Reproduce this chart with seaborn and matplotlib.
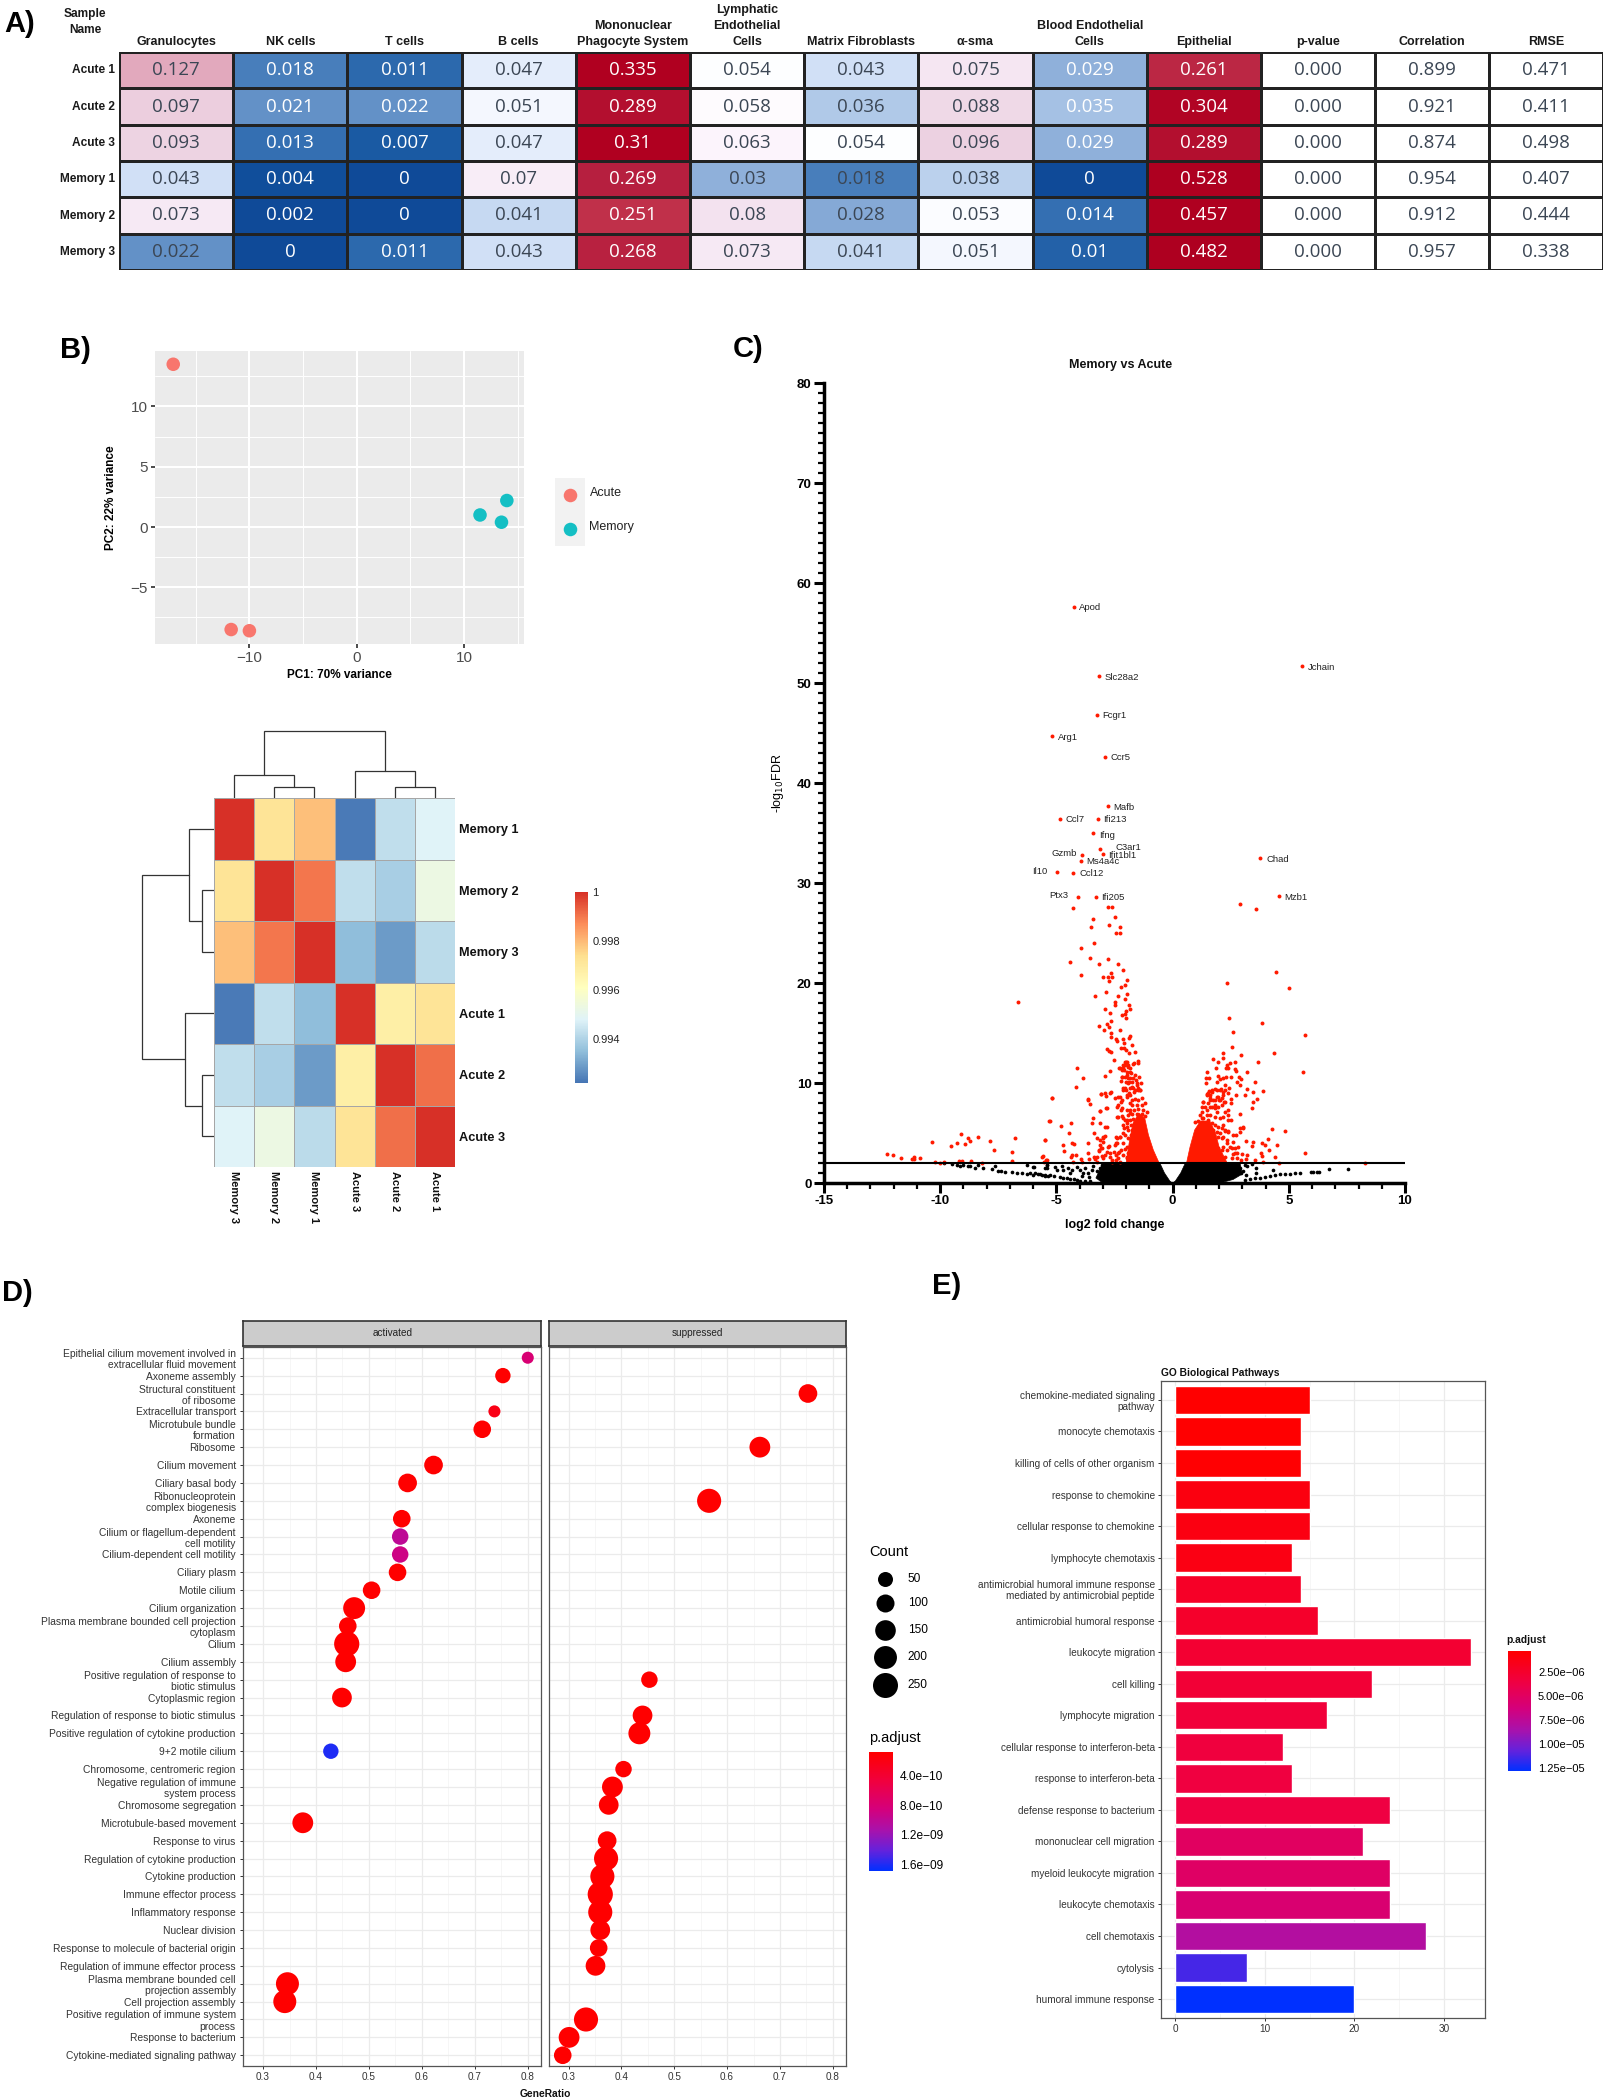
import numpy as np
import pandas as pd
import matplotlib
matplotlib.use("Agg")
import matplotlib.pyplot as plt
from matplotlib.colors import LinearSegmentedColormap, ListedColormap, Normalize
from matplotlib.cm import ScalarMappable
import seaborn as sns

# ---------- Panel A data ----------
samples = ["Acute 1", "Acute 2", "Acute 3", "Memory 1", "Memory 2", "Memory 3"]
cell_types = ["Granulocytes", "NK cells", "T cells", "B cells", "Mononuclear\nPhagocyte System",
              "Lymphatic\nEndothelial\nCells", "Matrix Fibroblasts", "α-sma",
              "Blood Endothelial\nCells", "Epithelial"]
granulocytes = [0.127, 0.097, 0.093, 0.043, 0.073, 0.022]
nk_cells = [0.018, 0.021, 0.013, 0.004, 0.002, 0]
t_cells = [0.011, 0.022, 0.007, 0, 0, 0.011]
b_cells = [0.047, 0.051, 0.047, 0.07, 0.041, 0.043]
mps = [0.335, 0.289, 0.31, 0.269, 0.251, 0.268]
lymph_endo = [0.054, 0.058, 0.063, 0.03, 0.08, 0.073]
matrix_fibro = [0.043, 0.036, 0.054, 0.018, 0.028, 0.041]
alpha_sma = [0.075, 0.088, 0.096, 0.038, 0.053, 0.051]
blood_endo = [0.029, 0.035, 0.029, 0, 0.014, 0.01]
epithelial = [0.261, 0.304, 0.289, 0.528, 0.457, 0.482]
stat_names = ["p-value", "Correlation", "RMSE"]
p_values = [0.0, 0.0, 0.0, 0.0, 0.0, 0.0]
correlation = [0.899, 0.921, 0.874, 0.954, 0.912, 0.957]
rmse = [0.471, 0.411, 0.498, 0.407, 0.444, 0.338]
light_text_columns = ["NK cells", "T cells", "Mononuclear\nPhagocyte System",
                      "Blood Endothelial\nCells", "Epithelial"]
table_color_stops = [(0, "#0F4A98"), (0.004, "#11529E"), (0.011, "#2F6BAF"), (0.014, "#3A74B5"),
                     (0.018, "#5084BE"), (0.022, "#6C97CB"), (0.029, "#8FB0DA"), (0.035, "#AFC8E8"),
                     (0.041, "#CFDFF6"), (0.047, "#EBF1FC"), (0.052, "#FCFDFF"), (0.056, "#FFFFFF"),
                     (0.063, "#FBF2FB"), (0.075, "#F5E6F2"), (0.088, "#EED8E6"), (0.096, "#ECD0E0"),
                     (0.127, "#E2A8BC"), (0.251, "#C0304A"), (0.27, "#B61E3E"), (0.31, "#B00020"),
                     (0.528, "#AE0020")]

# ---------- Panel B data ----------
pca_group = ["Acute", "Acute", "Acute", "Memory", "Memory", "Memory"]
pca_pc1 = [-17.1, -11.7, -10.0, 11.5, 13.5, 14.0]
pca_pc2 = [13.5, -8.5, -8.6, 1.0, 0.4, 2.2]
corr_rows = ["Memory 1", "Memory 2", "Memory 3", "Acute 1", "Acute 2", "Acute 3"]
corr_cols = ["Memory 3", "Memory 2", "Memory 1", "Acute 3", "Acute 2", "Acute 1"]
corr_r1 = [1.0, 0.9972, 0.9979, 0.9923, 0.9943, 0.9948]
corr_r2 = [0.9972, 1.0, 0.9990, 0.9943, 0.9939, 0.9953]
corr_r3 = [0.9979, 0.9990, 1.0, 0.9935, 0.9929, 0.9942]
corr_r4 = [0.9923, 0.9943, 0.9935, 1.0, 0.9968, 0.9972]
corr_r5 = [0.9943, 0.9939, 0.9929, 0.9968, 1.0, 0.9991]
corr_r6 = [0.9948, 0.9953, 0.9942, 0.9972, 0.9991, 1.0]
pheatmap_colors = ["#4575B4", "#91BFDB", "#E0F3F8", "#FFFFBF", "#FEE090", "#FC8D59", "#D73027"]
# linkage: (child a, child b, height); ids above 5 are earlier merges
corr_linkage = [(1, 2, 0.16), (0, 6, 0.345), (4, 5, 0.16), (3, 8, 0.405), (7, 9, 1.0)]

# ---------- Panel C data ----------
gene_names = ["Apod", "Slc28a2", "Fcgr1", "Arg1", "Ccr5", "Mafb", "Ccl7", "Ifi213", "Ifng", "C3ar1",
              "Ifit1bl1", "Gzmb", "Ms4a4c", "Il10", "Ccl12", "Ptx3", "Ifi205", "Jchain", "Chad", "Mzb1"]
gene_x = [-4.26, -3.17, -3.27, -5.17, -2.89, -2.76, -4.85, -3.23, -3.42, -3.14,
          -3.0, -3.88, -3.94, -4.98, -4.28, -4.07, -3.30, 5.58, 3.77, 4.56]
gene_y = [57.6, 50.7, 46.8, 44.7, 42.6, 37.7, 36.4, 36.4, 35.0, 33.4,
          32.9, 32.8, 32.2, 31.1, 31.0, 28.6, 28.6, 51.7, 32.5, 28.7]
gene_label_x = [-4.01, -2.93, -3.02, -4.95, -2.67, -2.54, -4.61, -2.99, -3.17, -2.45,
                -2.76, -5.20, -3.70, -6.03, -4.01, -5.30, -3.06, 5.82, 4.02, 4.80]
gene_label_y = [57.5, 50.6, 46.7, 44.6, 42.5, 37.6, 36.3, 36.3, 34.8, 33.5,
                32.8, 32.9, 32.1, 31.1, 30.9, 28.7, 28.5, 51.6, 32.4, 28.6]
red_left_upper = [(-4.29, 27.5), (-2.78, 27.6), (-2.59, 27.6), (-2.48, 26.6), (-3.41, 26.4), (-2.74, 25.8),
    (-3.53, 25.6), (-2.26, 25.6), (-2.45, 25.0), (-2.28, 25.0), (-3.40, 24.0), (-3.96, 23.5), (-3.57, 22.5),
    (-2.78, 22.4), (-4.43, 22.1), (-3.15, 21.9), (-2.36, 21.9), (-2.15, 21.3), (-2.65, 21.0), (-3.96, 20.8),
    (-3.0, 20.6), (-2.78, 20.6), (-2.61, 20.6), (-2.72, 20.2), (-1.95, 20.3), (-2.06, 19.8), (-2.24, 19.6),
    (-2.88, 19.1), (-3.34, 18.7), (-1.96, 18.9), (-2.36, 18.7), (-2.06, 18.4), (-2.48, 18.1), (-2.46, 17.8),
    (-1.88, 17.8), (-1.83, 17.4), (-2.91, 17.4), (-2.0, 17.2), (-2.69, 17.0), (-2.16, 16.8), (-2.06, 16.9),
    (-2.02, 16.5), (-2.65, 16.2), (-2.84, 15.9), (-3.15, 15.7), (-2.75, 15.6), (-2.95, 15.3), (-2.26, 15.3),
    (-2.64, 15.0), (-2.65, 14.6), (-1.83, 14.7), (-1.89, 14.5), (-2.42, 14.4), (-2.38, 14.2), (-2.15, 14.4),
    (-2.09, 14.0), (-1.73, 13.8), (-2.24, 13.5), (-2.11, 13.5), (-2.02, 13.3), (-2.82, 13.4), (-2.72, 13.2),
    (-2.64, 13.1), (-1.86, 13.0), (-1.62, 13.1), (-2.52, 12.3), (-2.03, 12.1), (-1.66, 12.0), (-1.49, 12.2),
    (-2.68, 11.25), (-2.9, 10.7), (-6.67, 18.1), (-4.13, 11.5), (-3.86, 10.5), (-4.16, 9.65), (-5.17, 8.5),
    (-3.64, 8.33), (-3.55, 7.9), (-2.29, 11.5), (-2.19, 11.3), (-2.05, 11.8), (-1.91, 11.8), (-1.83, 11.5),
    (-1.98, 11.15), (-2.12, 11.5), (-1.95, 12.15), (-1.80, 11.0), (-2.05, 10.65), (-1.69, 10.5), (-1.86, 10.15),
    (-2.0, 10.15), (-1.55, 9.8), (-1.66, 9.15), (-1.4, 9.3)]
red_left_lower = [(-5.20, 8.55), (-5.29, 6.25), (-4.80, 5.75), (-4.39, 6.05), (-5.49, 4.3), (-4.44, 5.0),
    (-4.72, 3.8), (-4.31, 4.0), (-4.23, 3.9), (-4.66, 3.25), (-4.14, 2.8), (-4.34, 2.8), (-4.39, 2.6),
    (-5.59, 2.75), (-5.45, 2.3), (-4.27, 2.15), (-3.94, 2.4), (-3.90, 2.15), (-3.66, 4.0), (-3.66, 8.4),
    (-3.08, 8.9), (-2.87, 8.75), (-2.67, 9.1), (-3.41, 6.5), (-3.47, 6.0), (-3.14, 7.2), (-2.87, 7.5),
    (-3.38, 5.05), (-2.84, 5.65), (-3.25, 4.5), (-2.92, 4.7), (-3.01, 4.15), (-3.12, 3.8), (-3.10, 3.5),
    (-3.15, 3.25), (-2.98, 4.5), (-3.63, 3.0), (-3.38, 2.6), (-3.6, 2.4), (-3.34, 2.4), (-3.27, 2.15),
    (-3.05, 2.7), (-2.98, 2.5), (-2.81, 3.15), (-2.74, 3.75), (-2.44, 4.6), (-2.38, 4.0), (-2.26, 4.65),
    (-2.48, 3.8), (-2.05, 3.4), (-2.51, 3.15), (-2.36, 3.0), (-2.29, 3.15), (-2.70, 2.65), (-2.62, 2.15),
    (-2.44, 2.3), (-2.26, 2.15), (-1.98, 2.65), (-1.83, 3.0), (-2.38, 7.65), (-2.34, 8.65), (-2.19, 8.3),
    (-2.12, 9.3), (-2.05, 9.5), (-1.83, 9.5), (-1.86, 9.0), (-2.24, 10.2), (-2.19, 10.65), (-1.91, 10.5),
    (-1.76, 10.15), (-1.58, 10.3), (-1.46, 10.65), (-1.36, 10.0), (-1.69, 9.5), (-1.48, 9.3), (-1.98, 8.65),
    (-1.83, 8.0), (-1.98, 7.3), (-2.24, 7.3), (-2.38, 6.65), (-2.15, 6.5), (-1.98, 6.3), (-2.08, 5.5),
    (-2.15, 5.0), (-1.95, 5.65), (-1.83, 7.0)]
red_left_speckle = [(-1.76, 8.3), (-1.62, 8.37), (-1.47, 8.3), (-1.33, 8.47), (-1.19, 7.97), (-1.76, 7.8),
    (-1.55, 7.8), (-1.33, 7.8), (-1.83, 7.3), (-1.65, 7.3), (-1.47, 7.37), (-1.26, 7.3), (-1.12, 7.14),
    (-1.9, 6.8), (-1.73, 6.9), (-1.55, 6.9), (-1.33, 6.9), (-1.19, 6.7), (-1.83, 6.3), (-1.69, 6.37),
    (-1.98, 5.97), (-1.79, 5.8), (-1.9, 5.3), (-1.73, 5.3), (-2.05, 6.3), (-2.12, 5.8), (-2.05, 4.8),
    (-1.9, 4.48), (-1.79, 3.97), (-1.98, 3.64), (-1.9, 2.97), (-1.73, 2.8), (-2.12, 3.97), (-2.41, 4.48),
    (-2.26, 4.64), (-2.45, 4.04), (-2.22, 3.3), (-2.45, 2.8), (-2.33, 2.48), (-2.69, 2.97), (-2.98, 4.64),
    (-3.12, 4.3), (-3.05, 3.48), (-2.77, 3.64), (-3.17, 3.3), (-3.27, 2.64), (-2.91, 2.8), (-2.62, 2.3),
    (-1.98, 2.48), (-2.12, 2.8), (-1.69, 3.64), (-1.79, 4.8), (-1.65, 4.3), (-2.0, 12.13), (-2.12, 11.8),
    (-1.9, 11.63), (-2.26, 11.47), (-1.83, 11.13), (-2.08, 11.3), (-2.19, 10.63), (-1.98, 10.8), (-1.83, 10.47),
    (-1.62, 10.8), (-1.47, 11.97), (-1.69, 11.9), (-1.55, 9.97), (-1.9, 9.97), (-1.76, 9.63), (-1.47, 9.47),
    (-2.12, 9.47), (-2.02, 9.3), (-1.62, 9.3), (-1.4, 9.3), (-1.98, 8.8), (-1.83, 8.8), (-2.26, 8.64),
    (-2.22, 8.14), (-2.48, 8.47), (-2.69, 8.97), (-2.91, 8.97), (-3.08, 8.9), (-2.84, 7.47), (-3.12, 7.2),
    (-2.33, 7.8), (-2.16, 7.47), (-2.33, 6.64), (-2.19, 6.7), (-2.91, 5.64), (-3.12, 5.97)]
red_far_left = [(-12.29, 2.87), (-12.04, 2.8), (-11.67, 2.54), (-11.23, 2.4), (-11.11, 2.57), (-11.11, 2.4),
    (-10.87, 2.5), (-10.35, 4.1), (-10.24, 2.15), (-10.0, 2.05), (-9.84, 2.15), (-9.52, 3.7), (-9.29, 4.05),
    (-9.1, 4.94), (-9.2, 2.2), (-9.05, 2.2), (-8.95, 3.87), (-8.8, 4.5), (-8.72, 4.24), (-8.67, 2.2),
    (-8.37, 4.64), (-8.21, 2.05), (-7.87, 4.24), (-7.68, 3.34), (-6.92, 3.14), (-6.92, 2.2), (-6.77, 4.54),
    (-5.6, 2.64), (-5.53, 2.15), (-5.42, 2.27), (-5.49, 4.27), (-5.3, 6.2)]
red_right = [(2.44, 16.5), (3.83, 16.04), (5.71, 14.84), (2.6, 15.1), (2.57, 13.57), (4.38, 13.0), (2.17, 13.0),
    (2.94, 12.8), (1.75, 12.37), (1.97, 12.14), (2.15, 12.47), (3.66, 12.07), (2.68, 12.1), (2.48, 12.04),
    (2.35, 11.8), (2.28, 11.5), (2.4, 11.5), (1.88, 11.5), (2.68, 11.4), (2.73, 11.2), (1.5, 11.07), (3.2, 11.07),
    (5.62, 11.07), (1.94, 10.7), (1.42, 10.54), (1.57, 10.5), (2.04, 10.4), (2.18, 10.54), (2.28, 10.64),
    (2.51, 10.57), (2.86, 10.64), (2.94, 10.37), (2.76, 10.14), (3.53, 10.14), (1.44, 10.0), (1.92, 10.14),
    (2.9, 9.77), (2.27, 9.8), (2.41, 9.54), (3.2, 9.38), (3.88, 9.18), (3.46, 9.08), (1.82, 9.38), (1.68, 9.3),
    (1.55, 9.24), (2.07, 9.38), (2.18, 9.14), (2.4, 9.04), (2.73, 8.8), (3.12, 8.78), (1.47, 8.9), (1.61, 8.8),
    (1.9, 8.64), (2.11, 8.48), (2.01, 8.3), (2.21, 8.14), (1.82, 8.3), (1.61, 8.3), (3.65, 8.38), (2.53, 8.38),
    (3.47, 8.08), (1.29, 8.14), (2.51, 8.04), (3.4, 7.48), (1.28, 7.64), (1.61, 7.64), (2.11, 7.8), (1.82, 7.48),
    (1.92, 7.14), (2.25, 7.14), (2.4, 6.8), (2.18, 6.65), (2.04, 6.48), (2.4, 6.3), (2.51, 6.3), (2.91, 6.9),
    (3.04, 5.55), (4.28, 5.45), (4.82, 5.2), (2.9, 5.15), (2.73, 4.8), (2.4, 5.2), (2.25, 5.2), (2.11, 5.5),
    (2.18, 5.8), (1.97, 5.65), (2.33, 4.3), (2.18, 4.65), (2.04, 5.0), (4.11, 4.38), (3.17, 4.18), (3.44, 4.1),
    (3.42, 3.75), (2.61, 4.15), (3.83, 4.0), (3.97, 3.8), (4.48, 3.8), (4.16, 3.35), (2.8, 3.65), (2.54, 3.5),
    (2.33, 3.3), (5.71, 3.0), (3.8, 3.0), (3.86, 2.7), (4.41, 2.58), (3.19, 2.8), (2.97, 2.9), (2.61, 2.9),
    (2.76, 2.5), (3.55, 2.3), (3.9, 2.1), (4.58, 2.05), (8.28, 2.05), (2.94, 2.3), (3.16, 2.4), (2.33, 20.0),
    (2.91, 27.9), (3.6, 27.45), (4.46, 21.1), (5.0, 19.5)]
red_right_speckle = [(0.96, 6.14), (1.11, 6.24), (1.32, 6.47), (1.54, 6.3), (1.18, 6.8), (1.47, 6.8), (1.61, 6.8),
    (1.82, 6.64), (1.25, 7.14), (1.47, 7.3), (1.68, 7.64), (1.39, 7.64), (1.54, 7.97), (1.32, 8.14), (1.82, 7.8),
    (1.75, 8.3), (1.61, 8.47), (2.04, 8.3), (1.97, 8.64), (1.54, 8.97), (1.68, 9.14), (1.9, 9.3), (1.47, 8.8),
    (2.04, 9.3), (2.18, 8.8), (2.25, 9.3), (2.25, 8.14), (2.4, 7.3), (1.97, 7.64), (1.82, 5.8), (1.9, 5.14),
    (1.97, 4.64), (1.82, 3.64), (1.97, 3.48), (1.75, 3.3), (1.9, 3.14), (2.11, 3.3), (2.25, 2.64), (2.25, 5.3),
    (2.4, 5.14), (2.61, 4.8), (2.11, 4.48), (2.33, 3.98), (2.47, 3.64), (2.68, 3.48), (2.18, 3.64), (2.76, 2.97),
    (2.54, 2.48), (3.04, 5.64), (2.9, 5.47), (2.68, 2.97), (1.25, 6.47), (1.68, 6.0), (1.75, 5.3)]
black_left = [(-9.82, 1.97), (-9.5, 1.87), (-9.29, 1.8), (-9.15, 1.74), (-9.0, 1.77), (-8.79, 1.7), (-8.72, 1.7),
    (-8.5, 1.54), (-8.39, 1.8), (-8.14, 1.48), (-7.78, 1.38), (-7.64, 1.7), (-7.5, 1.24), (-7.38, 1.24),
    (-7.21, 1.14), (-6.92, 1.08), (-6.71, 1.0), (-6.49, 0.98), (-6.28, 0.88), (-5.99, 0.78), (-6.25, 1.8),
    (-5.96, 1.64), (-5.78, 0.88), (-5.63, 0.84), (-5.49, 0.74), (-5.35, 0.7), (-5.39, 1.8), (-5.39, 1.47),
    (-6.14, 1.0), (-5.9, 0.98), (-5.7, 0.93), (-5.5, 0.85), (-5.28, 0.76), (-5.1, 0.68), (-4.85, 0.56),
    (-4.7, 0.5), (-4.55, 0.47), (-4.42, 0.43), (-4.25, 0.36), (-4.1, 0.3), (-3.98, 0.23), (-3.75, 0.2), (-3.55, 0.17),
    (-6.0, 1.65), (-5.49, 1.5), (-5.42, 1.83), (-5.06, 1.6), (-4.99, 1.33), (-4.77, 1.73), (-4.7, 1.26),
    (-4.49, 1.5), (-4.34, 1.33), (-4.42, 1.0), (-4.13, 1.6), (-3.98, 1.33), (-3.84, 1.0), (-3.77, 1.5), (-3.63, 1.0),
    (-3.48, 1.33), (-3.41, 1.66), (-3.27, 1.16), (-3.12, 1.5), (-3.05, 1.83), (-2.84, 1.93), (-3.9, 0.75), (-3.6, 0.6)]
black_right = [(3.12, 0.32), (3.33, 0.38), (3.55, 0.48), (3.76, 0.55), (3.97, 0.65), (4.19, 0.75), (4.41, 0.82),
    (4.62, 0.88), (4.84, 0.92), (5.05, 0.95), (5.27, 0.98), (5.48, 1.0), (5.94, 1.08), (6.03, 1.12), (6.2, 1.08),
    (6.3, 1.12), (6.74, 1.45), (7.53, 1.45), (4.31, 1.32), (3.57, 1.55), (3.57, 1.0), (3.16, 0.82), (3.22, 1.75),
    (3.12, 1.82), (3.42, 1.88), (3.04, 1.25), (2.9, 1.48), (2.96, 1.0)]
# outlines of the clouds too dense to separate into single genes
dense_red_left = [(-2.0, 2.0), (-1.85, 4.3), (-1.7, 6.0), (-1.45, 7.0), (-1.2, 6.5), (-1.04, 4.8), (-0.83, 3.3), (-0.58, 2.0)]
dense_red_right = [(0.6, 2.0), (0.75, 3.6), (0.95, 5.3), (1.2, 6.2), (1.6, 6.2), (1.85, 5.0), (2.0, 3.6), (2.35, 2.0)]
dense_black_left = [(-3.0, 2.0), (-0.55, 2.0), (-0.35, 1.0), (-0.12, 0.2), (-0.02, 0.0), (-3.0, 0.0), (-3.3, 0.5)]
dense_black_right = [(0.55, 2.0), (2.9, 2.0), (3.0, 0.9), (2.6, 0.35), (2.2, 0.1), (0.02, 0.0), (0.12, 0.2), (0.35, 1.0)]

# ---------- Panel D data ----------
go_terms = ["Epithelial cilium movement involved in\nextracellular fluid movement", "Axoneme assembly",
    "Structural constituent\nof ribosome", "Extracellular transport", "Microtubule bundle\nformation", "Ribosome",
    "Cilium movement", "Ciliary basal body", "Ribonucleoprotein\ncomplex biogenesis", "Axoneme",
    "Cilium or flagellum-dependent\ncell motility", "Cilium-dependent cell motility", "Ciliary plasm", "Motile cilium",
    "Cilium organization", "Plasma membrane bounded cell projection\ncytoplasm", "Cilium", "Cilium assembly",
    "Positive regulation of response to\nbiotic stimulus", "Cytoplasmic region",
    "Regulation of response to biotic stimulus", "Positive regulation of cytokine production", "9+2 motile cilium",
    "Chromosome, centromeric region", "Negative regulation of immune\nsystem process", "Chromosome segregation",
    "Microtubule-based movement", "Response to virus", "Regulation of cytokine production", "Cytokine production",
    "Immune effector process", "Inflammatory response", "Nuclear division", "Response to molecule of bacterial origin",
    "Regulation of immune effector process", "Plasma membrane bounded cell\nprojection assembly",
    "Cell projection assembly", "Positive regulation of immune system\nprocess", "Response to bacterium",
    "Cytokine-mediated signaling pathway"]
go_facet = ["activated", "activated", "suppressed", "activated", "activated", "suppressed", "activated", "activated",
    "suppressed", "activated", "activated", "activated", "activated", "activated", "activated", "activated", "activated",
    "activated", "suppressed", "activated", "suppressed", "suppressed", "activated", "suppressed", "suppressed",
    "suppressed", "activated", "suppressed", "suppressed", "suppressed", "suppressed", "suppressed", "suppressed",
    "suppressed", "suppressed", "activated", "activated", "suppressed", "suppressed", "suppressed"]
go_ratio = [0.80, 0.753, 0.753, 0.737, 0.714, 0.662, 0.622, 0.573, 0.566, 0.562, 0.559, 0.559, 0.554, 0.505, 0.472,
    0.46, 0.458, 0.456, 0.453, 0.449, 0.44, 0.434, 0.428, 0.404, 0.383, 0.376, 0.375, 0.373, 0.371, 0.364, 0.36, 0.36,
    0.36, 0.357, 0.351, 0.346, 0.341, 0.333, 0.301, 0.289]
go_count = [10, 56, 112, 10, 92, 154, 112, 112, 228, 92, 73, 73, 92, 92, 178, 92, 255, 154, 73, 132, 132, 178, 56, 73,
    154, 132, 154, 112, 228, 228, 255, 228, 132, 92, 132, 202, 202, 228, 154, 92]
go_padj = [8e-10, 9e-11, 9e-11, 2.2e-10, 9e-11, 9e-11, 9e-11, 9e-11, 9e-11, 9e-11, 1.0e-9, 9e-10, 9e-11, 9e-11, 9e-11,
    9e-11, 9e-11, 9e-11, 9e-11, 9e-11, 9e-11, 9e-11, 1.6e-9, 9e-11, 9e-11, 9e-11, 9e-11, 9e-11, 9e-11, 9e-11, 9e-11,
    9e-11, 9e-11, 9e-11, 9e-11, 9e-11, 9e-11, 9e-11, 9e-11, 9e-11]
count_legend = [50, 100, 150, 200, 250]
padj_d_ticks = [4e-10, 8e-10, 1.2e-9, 1.6e-9]
padj_d_labels = ["4.0e−10", "8.0e−10", "1.2e−09", "1.6e−09"]

# ---------- Panel E data ----------
bp_terms = ["chemokine-mediated signaling\npathway", "monocyte chemotaxis", "killing of cells of other organism",
    "response to chemokine", "cellular response to chemokine", "lymphocyte chemotaxis",
    "antimicrobial humoral immune response\nmediated by antimicrobial peptide", "antimicrobial humoral response",
    "leukocyte migration", "cell killing", "lymphocyte migration", "cellular response to interferon-beta",
    "response to interferon-beta", "defense response to bacterium", "mononuclear cell migration",
    "myeloid leukocyte migration", "leukocyte chemotaxis", "cell chemotaxis", "cytolysis", "humoral immune response"]
bp_count = [15, 14, 14, 15, 15, 13, 14, 16, 33, 22, 17, 12, 13, 24, 21, 24, 24, 28, 8, 20]
bp_padj = [4e-7, 4.5e-7, 5e-7, 1.1e-6, 1.2e-6, 1.3e-6, 2.3e-6, 2.5e-6, 2.8e-6, 3.0e-6, 3.2e-6, 3.4e-6, 3.5e-6, 3.6e-6,
    5.0e-6, 5.2e-6, 5.8e-6, 8.0e-6, 1.13e-5, 1.28e-5]
padj_e_ticks = [2.5e-6, 5e-6, 7.5e-6, 1e-5, 1.25e-5]
padj_e_labels = ["2.50e−06", "5.00e−06", "7.50e−06", "1.00e−05", "1.25e−05"]
padj_color_stops = [(0, "#FF0000"), (0.25, "#F00040"), (0.48, "#D4007C"), (0.66, "#A812AC"), (0.83, "#6422DC"), (1, "#0030FF")]

# ---------- figure ----------
W, H = 1608, 2100
sns.set_theme(style="white")
plt.rcParams["font.family"] = ["Liberation Sans", "DejaVu Sans"]
fig = plt.figure(figsize=(W / 100, H / 100), dpi=100, facecolor="white")


def axpx(x0, y0, x1, y1, **kw):
    return fig.add_axes([x0 / W, 1 - y1 / H, (x1 - x0) / W, (y1 - y0) / H], **kw)


def ftext(x, y, s, **kw):
    return fig.text(x / W, 1 - y / H, s, **kw)


for lab, x, y in [("A)", 4, 24), ("B)", 60, 350), ("C)", 733, 349), ("D)", 2, 1293), ("E)", 932, 1286)]:
    ftext(x, y, lab, fontsize=21, fontweight="bold", family="Liberation Sans", va="center", color="black")

# ---------- A ----------
cell_df = pd.DataFrame(np.array([granulocytes, nk_cells, t_cells, b_cells, mps, lymph_endo, matrix_fibro, alpha_sma,
                                 blood_endo, epithelial]).T, index=samples, columns=cell_types)
stat_df = pd.DataFrame(np.array([p_values, correlation, rmse]).T, index=samples, columns=stat_names)
vmax_t = table_color_stops[-1][0]
table_cmap = LinearSegmentedColormap.from_list("tbl", [(v / vmax_t, c) for v, c in table_color_stops])
ax_a = axpx(119, 52, 119 + 10 * 114.2, 270)
sns.heatmap(cell_df, ax=ax_a, cmap=table_cmap, vmin=0, vmax=vmax_t, cbar=False, annot=True, fmt="g",
            annot_kws={"fontsize": 13.5, "family": "Open Sans"}, linewidths=2, linecolor="#222222")
ax_b_tbl = axpx(119 + 10 * 114.2, 52, 1603, 270)
sns.heatmap(stat_df, ax=ax_b_tbl, cmap=ListedColormap(["white"]), cbar=False, annot=True, fmt=".3f",
            annot_kws={"fontsize": 13.5, "family": "Open Sans"}, linewidths=2, linecolor="#222222")
n_rows = len(samples)
for t, (c, _) in zip(ax_a.texts, [(c, r) for r in range(n_rows) for c in range(len(cell_types))]):
    t.set_color("white" if cell_types[c] in light_text_columns else "#3B4654")
for t in ax_b_tbl.texts:
    t.set_color("#3B4654")
for a in (ax_a, ax_b_tbl):
    a.xaxis.tick_top()
    a.tick_params(axis="both", length=0, pad=3)
    plt.setp(a.get_xticklabels(), rotation=0, fontsize=9, fontweight="bold", color="#1a1a1a",
             ha="center", va="bottom", linespacing=1.45)
    a.set_xlabel("")
    a.set_ylabel("")
plt.setp(ax_a.get_yticklabels(), rotation=0, fontsize=8.6, fontweight="bold", color="#1a1a1a")
ax_b_tbl.set_yticks([])
ftext(85, 22, "Sample\nName", fontsize=8.6, fontweight="bold", ha="center", va="center", linespacing=1.45, color="#1a1a1a")

# ---------- B: PCA ----------
ax_pca = axpx(155, 351, 524, 644)
ax_pca.set_facecolor("#EBEBEB")
pca_df = pd.DataFrame({"PC1": pca_pc1, "PC2": pca_pc2, "group": pca_group})
pca_pal = {"Acute": "#F8766D", "Memory": "#14BFC4"}
sns.scatterplot(data=pca_df, x="PC1", y="PC2", hue="group", palette=pca_pal, s=95, linewidth=0, ax=ax_pca,
                legend=False, zorder=3)
ax_pca.set_xlim(-18.8, 15.6)
ax_pca.set_ylim(-9.7, 14.6)
ax_pca.set_xticks([-10, 0, 10])
ax_pca.set_xticks([-15, -5, 5, 15], minor=True)
ax_pca.set_yticks([-5, 0, 5, 10])
ax_pca.set_yticks([-7.5, -2.5, 2.5, 7.5, 12.5], minor=True)
ax_pca.grid(True, which="major", color="white", lw=1.5)
ax_pca.grid(True, which="minor", color="white", lw=0.7)
ax_pca.set_axisbelow(True)
sns.despine(ax=ax_pca, left=True, bottom=True)
ax_pca.tick_params(which="major", length=3, color="#333333", labelsize=11, labelcolor="#4D4D4D", bottom=True, left=True, pad=2)
ax_pca.tick_params(which="minor", length=0)
ax_pca.set_xlabel("PC1: 70% variance", fontsize=8.5, fontweight="bold", labelpad=3, color="black")
ax_pca.set_ylabel("PC2: 22% variance", fontsize=8.5, fontweight="bold", labelpad=10, color="black")

ax_key = axpx(555, 478, 585, 546)
ax_key.set_facecolor("#F2F2F2")
ax_key.set_xticks([])
ax_key.set_yticks([])
sns.despine(ax=ax_key, left=True, bottom=True)
ax_key.set_xlim(0, 1)
ax_key.set_ylim(1, 0)
for g, yk in zip(["Acute", "Memory"], [0.25, 0.75]):
    ax_key.scatter([0.5], [yk], s=95, color=pca_pal[g], linewidth=0)
    ax_key.text(1.15, yk - 0.03, g, fontsize=9, va="center", clip_on=False, color="#222222")

# ---------- B: correlation heat map ----------
corr_df = pd.DataFrame([corr_r1, corr_r2, corr_r3, corr_r4, corr_r5, corr_r6], index=corr_rows, columns=corr_cols)
ph_cmap = LinearSegmentedColormap.from_list("ph", pheatmap_colors)
ax_hm = axpx(214, 798, 455, 1167)
ax_cb = axpx(575, 892, 588, 1083)
sns.heatmap(corr_df, ax=ax_hm, cmap=ph_cmap, vmin=0.9922, vmax=1.0, linewidths=0.7, linecolor="#A6A6A6",
            cbar_ax=ax_cb, cbar_kws={"ticks": [0.994, 0.996, 0.998, 1.0]})
ax_hm.yaxis.tick_right()
ax_hm.tick_params(length=0, pad=3)
plt.setp(ax_hm.get_yticklabels(), rotation=0, fontsize=9.2, fontweight="bold", color="#111111")
plt.setp(ax_hm.get_xticklabels(), rotation=270, fontsize=8, fontweight="bold", color="#111111")
ax_cb.set_yticklabels(["0.994", "0.996", "0.998", "1"], fontsize=8, color="#222222")
ax_cb.tick_params(length=0, pad=3)
ax_hm.collections[0].colorbar.outline.set_visible(False)


def draw_dendro(ax, horizontal):
    pos = {i: (i + 0.5, 0.0) for i in range(6)}
    for k, (a, b, h) in enumerate(corr_linkage):
        pa, ha = pos[a]
        pb, hb = pos[b]
        xs, ys = [pa, pa, pb, pb], [ha, h, h, hb]
        if horizontal:
            ax.plot(ys, xs, color="#333333", lw=0.9, solid_joinstyle="miter")
        else:
            ax.plot(xs, ys, color="#333333", lw=0.9, solid_joinstyle="miter")
        pos[6 + k] = ((pa + pb) / 2, h)
    ax.axis("off")


ax_dt = axpx(214, 730, 455, 798)
draw_dendro(ax_dt, False)
ax_dt.set_xlim(0, 6)
ax_dt.set_ylim(0, 1.01)
ax_dl = axpx(141, 798, 214, 1167)
draw_dendro(ax_dl, True)
ax_dl.set_ylim(6, 0)
ax_dl.set_xlim(1.01, 0)

# ---------- C: volcano ----------
ax_v = axpx(824, 383, 1405, 1183)
black = np.array(black_left + black_right)
red = np.array(red_left_upper + red_left_lower + red_left_speckle + red_far_left + red_right + red_right_speckle)
for poly in (dense_black_left, dense_black_right):
    ax_v.fill(*zip(*poly), color="black", lw=0.5, zorder=1)
for poly in (dense_red_left, dense_red_right):
    ax_v.fill(*zip(*poly), color="#FF1A00", lw=0.5, zorder=2)
sns.scatterplot(x=black[:, 0], y=black[:, 1], color="black", s=7, linewidth=0, ax=ax_v, zorder=2)
sns.scatterplot(x=red[:, 0], y=red[:, 1], color="#FF1A00", s=8, linewidth=0, ax=ax_v, zorder=3)
sns.scatterplot(x=gene_x, y=gene_y, color="#FF1A00", s=8, linewidth=0, ax=ax_v, zorder=3)
for g, lx, ly in zip(gene_names, gene_label_x, gene_label_y):
    ax_v.text(lx, ly, g, fontsize=6.8, va="center", ha="left", color="#222222")
ax_v.axhline(2, color="black", lw=1.5, zorder=4)
ax_v.set_xlim(-15, 10)
ax_v.set_ylim(0, 80)
ax_v.set_xticks(range(-15, 11, 5))
ax_v.set_xticklabels([str(v) for v in range(-15, 11, 5)])
ax_v.set_xticks(range(-15, 11), minor=True)
ax_v.set_yticks(range(0, 81, 10))
ax_v.set_yticks(range(0, 81), minor=True)
sns.despine(ax=ax_v)
for s in ("left", "bottom"):
    ax_v.spines[s].set_linewidth(2.5)
    ax_v.spines[s].set_color("black")
ax_v.tick_params(which="major", length=7, width=2.2, color="black", labelsize=9.5, pad=2, left=True, bottom=True)
ax_v.tick_params(which="minor", length=4, width=1.6, color="black", left=True, bottom=True)
plt.setp(ax_v.get_xticklabels() + ax_v.get_yticklabels(), fontweight="bold", color="black")
ax_v.set_xlabel("log2 fold change", fontsize=9, fontweight="bold", labelpad=8, color="black")
ax_v.set_ylabel(r"-log$_{10}$FDR", fontsize=9, labelpad=8, color="black")
ax_v.set_title("Memory vs Acute", fontsize=9, fontweight="bold", pad=11, x=0.51, color="#111111")

# ---------- D: dot plot ----------
padj_cmap = LinearSegmentedColormap.from_list("padj", padj_color_stops)
go_df = pd.DataFrame({"term": go_terms, "facet": go_facet, "GeneRatio": go_ratio, "Count": go_count, "padj": go_padj})
go_df["pos"] = np.arange(len(go_df))
d_norm = (8.4e-11, 1.686e-9)
d_boxes = {"activated": (243.5, 541), "suppressed": (549, 846)}
for facet, (x0, x1) in d_boxes.items():
    ax = axpx(x0, 1347, x1, 2066)
    sub = go_df[go_df["facet"] == facet]
    sns.scatterplot(data=sub, x="GeneRatio", y="pos", hue="padj", size="Count", palette=padj_cmap, hue_norm=d_norm,
                    sizes=(75.2, 344.8), size_norm=(10, 270), linewidth=0, legend=False, ax=ax, zorder=3, clip_on=False)
    ax.set_xlim(0.263, 0.825)
    ax.set_ylim(39.6, -0.6)
    ax.set_xticks([0.3, 0.4, 0.5, 0.6, 0.7, 0.8])
    ax.set_xticks([0.35, 0.45, 0.55, 0.65, 0.75], minor=True)
    ax.set_yticks(range(len(go_terms)))
    ax.grid(True, which="major", color="#EBEBEB", lw=0.9)
    ax.grid(True, which="minor", axis="x", color="#F3F3F3", lw=0.5)
    ax.set_axisbelow(True)
    for s in ax.spines.values():
        s.set_color("#555555")
        s.set_linewidth(0.9)
    ax.tick_params(which="major", axis="x", length=2.5, width=0.7, color="#333333", labelsize=7.2, labelcolor="#333333", bottom=True, pad=2)
    ax.tick_params(which="minor", length=0)
    if facet == "activated":
        ax.set_yticklabels(go_terms, fontsize=7.4, color="#333333", linespacing=1.15, ha="right")
        ax.tick_params(axis="y", length=2.5, width=0.7, color="#333333", left=True, pad=3)
    else:
        ax.set_yticklabels([])
        ax.tick_params(axis="y", length=0)
    ax.set_xlabel("")
    ax.set_ylabel("")
    st = axpx(x0, 1321, x1, 1346)
    st.set_facecolor("#CCCCCC")
    st.set_xticks([])
    st.set_yticks([])
    for s in st.spines.values():
        s.set_color("#333333")
        s.set_linewidth(1.2)
    st.text(0.5, 0.5, facet, transform=st.transAxes, fontsize=7.2, ha="center", va="center", color="#222222")
ftext(545, 2094, "GeneRatio", fontsize=7.4, fontweight="bold", ha="center", va="center", color="#111111")

# count legend
ftext(869, 1552, "Count", fontsize=10.5, va="center", color="black")
ax_cl = axpx(869, 1563, 905, 1700)
ax_cl.axis("off")
ax_cl.set_xlim(0, 1)
ax_cl.set_ylim(1700, 1563)
legend_y = [1579, 1603, 1630, 1657, 1685]
for c, yy in zip(count_legend, legend_y):
    ax_cl.scatter([0.45], [yy], s=64.8 + 1.037 * c, color="black", linewidth=0, clip_on=False)
    ax_cl.text(1.08, yy, str(c), fontsize=8.6, va="center", color="black", clip_on=False)


def padj_bar(x0, y0, x1, y1, vmin, vmax, ticks, labels, fs):
    cax = axpx(x0, y0, x1, y1)
    cb = fig.colorbar(ScalarMappable(norm=Normalize(vmin, vmax), cmap=padj_cmap), cax=cax, ticks=ticks)
    cb.outline.set_visible(False)
    cax.invert_yaxis()
    cax.set_yticklabels(labels, fontsize=fs, color="black")
    cax.tick_params(axis="y", color="white", direction="in", length=3, width=0.6, left=True, right=True, pad=5)
    return cb


ftext(869, 1738, "p.adjust", fontsize=10.5, va="center", color="black")
padj_bar(869, 1752, 893, 1871, d_norm[0], d_norm[1], padj_d_ticks, padj_d_labels, 8.6)

# ---------- E: bars ----------
ax_e = axpx(1161, 1381, 1485, 2018)
e_norm = Normalize(3.7e-7, 1.28e-5)
bp_df = pd.DataFrame({"term": bp_terms, "Count": bp_count, "padj": bp_padj})
sns.barplot(data=bp_df, x="Count", y="term", hue="term", dodge=False, legend=False, width=0.9, saturation=1,
            palette=[padj_cmap(e_norm(v)) for v in bp_padj], ax=ax_e, zorder=3)
ax_e.set_xlim(-1.59, 34.6)
ax_e.set_ylim(19.6, -0.6)
ax_e.set_xticks([0, 10, 20, 30])
ax_e.set_xticks([5, 15, 25], minor=True)
ax_e.grid(True, which="major", color="#EBEBEB", lw=0.9)
ax_e.grid(True, which="minor", axis="x", color="#F3F3F3", lw=0.5)
ax_e.set_axisbelow(True)
for s in ax_e.spines.values():
    s.set_color("#555555")
    s.set_linewidth(0.9)
ax_e.tick_params(axis="both", which="major", length=2.5, width=0.7, color="#333333", left=True, bottom=True, pad=2)
ax_e.tick_params(which="minor", length=0)
plt.setp(ax_e.get_yticklabels(), fontsize=7.2, color="#333333", linespacing=1.12)
plt.setp(ax_e.get_xticklabels(), fontsize=7.2, color="#333333")
ax_e.set_xlabel("")
ax_e.set_ylabel("")
ftext(1161, 1373, "GO Biological Pathways", fontsize=7.4, fontweight="bold", va="center", color="#111111")
ftext(1506, 1640, "p.adjust", fontsize=7.4, fontweight="bold", va="center", color="#111111")
padj_bar(1508, 1651, 1531, 1771, 3.7e-7, 1.28e-5, padj_e_ticks, padj_e_labels, 8)

fig.savefig("out.png", dpi=100, facecolor="white")
